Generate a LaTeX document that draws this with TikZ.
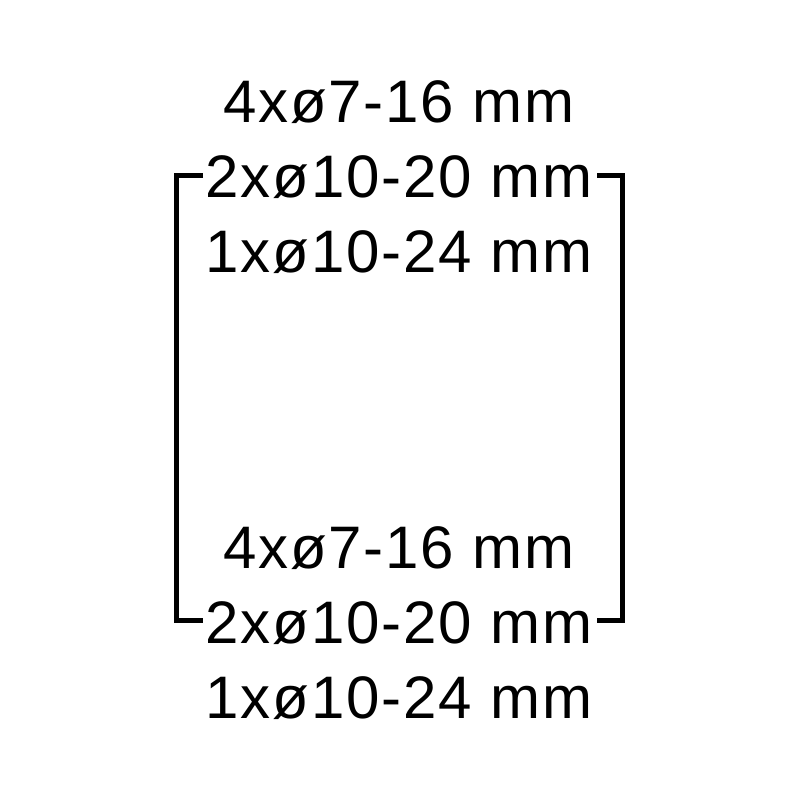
\documentclass[tikz,border=0pt]{standalone}
\usepackage{fontspec}
\setmainfont{Liberation Sans}[LetterSpace=3]
\begin{document}
\begin{tikzpicture}[x=1pt,y=-1pt,
  lbl/.style={anchor=base,inner sep=0pt,font=\fontsize{60}{70}\selectfont},
  brk/.style={line width=5pt,line cap=butt,line join=miter}]
\useasboundingbox (0,0) rectangle (800,800);
\node[lbl] (a1) at (399,122) {4xø7-16 mm};
\node[lbl] (a2) at (399,197) {2xø10-20 mm};
\node[lbl] (a3) at (399,272) {1xø10-24 mm};
\node[lbl] (b1) at (399,568) {4xø7-16 mm};
\node[lbl] (b2) at (399,643) {2xø10-20 mm};
\node[lbl] (b3) at (399,718) {1xø10-24 mm};
\draw[brk] (203,175) -- (176,175) -- (176,620) -- (203,620);
\draw[brk] (597,175) -- (622,175) -- (622,620) -- (597,620);
\end{tikzpicture}
\end{document}
